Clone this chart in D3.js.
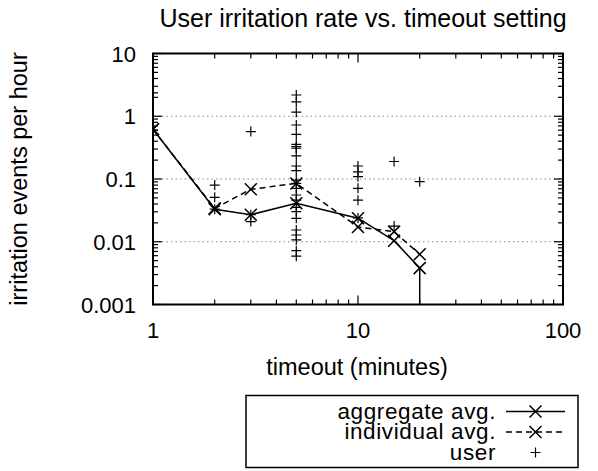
<!DOCTYPE html>
<html><head><meta charset="utf-8">
<script src="https://cdn.jsdelivr.net/npm/d3@7"></script>
<style>body{margin:0;background:#fff}svg{display:block;font-family:"Liberation Sans",Arial,sans-serif}</style>
</head><body>
<svg id="c" width="598" height="471"></svg>
<script>
const timeouts = [1, 2, 3, 5, 10, 15, 20, 20];
const aggregateAvg = [0.62, 0.033, 0.027, 0.041, 0.0237, 0.0104, 0.0038, 0.00001];
const indivX = [1, 2, 3, 5, 10, 15, 20];
const individualAvg = [0.62, 0.034, 0.0686, 0.085, 0.0172, 0.0145, 0.0063];
const userX = [1,1, 2,2,2, 3,3,3,
  5,5,5,5,5,5,5,5,5,5,5,5,5,5,5,5,5,5,5,5,5,5,5,5,
  10,10,10,10,10,10, 15,15, 20];
const userY = [2.35,0.6, 0.080,0.051,0.033, 0.57,0.027,0.021,
  2.18,1.69,1.16,0.725,0.516,0.357,0.327,0.309,0.233,0.161,0.136,0.096,0.085,0.071,0.0556,0.046,0.0354,0.0303,0.0236,0.0154,0.0128,0.0107,0.0072,0.0059,
  0.161,0.13,0.109,0.071,0.046,0.024, 0.19,0.0178, 0.0906];
const xTickLabels = ["1", "10", "100"];
const yTickLabels = ["0.001", "0.01", "0.1", "1", "10"];
const gridValues = [0.01, 0.1, 1];
const legendLabels = ["aggregate avg.", "individual avg.", "user"];

const svg = d3.select("#c");
const L = 153, R = 563, T = 53.5, B = 304.5;
const x = d3.scaleLog().domain([1, 100]).range([L, R]);
const y = d3.scaleLog().domain([0.001, 10]).range([B, T]);
const FS = 22;

svg.append("defs").append("clipPath").attr("id", "clip")
  .append("rect").attr("x", L).attr("y", T).attr("width", R - L).attr("height", B - T);

// grid
svg.append("g").selectAll("line").data(gridValues).join("line")
  .attr("x1", L).attr("x2", R).attr("y1", d => y(d)).attr("y2", d => y(d))
  .attr("stroke", "#888").attr("stroke-width", 1.2).attr("stroke-dasharray", "1.5,3");

// ticks
const tg = svg.append("g").attr("stroke", "#000").attr("stroke-width", 1.2);
const xt = [];
for (let d = 1; d <= 100; d *= 10) for (let m = 1; m < 10; m++) { const v = d * m; if (v <= 100) xt.push(v); }
xt.forEach(v => {
  const len = (Math.log10(v) % 1 === 0) ? 9 : 5;
  tg.append("line").attr("x1", x(v)).attr("x2", x(v)).attr("y1", B).attr("y2", B - len);
  tg.append("line").attr("x1", x(v)).attr("x2", x(v)).attr("y1", T).attr("y2", T + len);
});
const yt = [];
for (let d = 0.001; d <= 10.0001; d *= 10) for (let m = 1; m < 10; m++) { const v = d * m; if (v <= 10.0001) yt.push([v, m === 1]); }
yt.forEach(([v, major]) => {
  const len = major ? 9 : 5;
  tg.append("line").attr("x1", L).attr("x2", L + len).attr("y1", y(v)).attr("y2", y(v));
  tg.append("line").attr("x1", R).attr("x2", R - len).attr("y1", y(v)).attr("y2", y(v));
});

// tick labels
svg.append("g").selectAll("text").data(xTickLabels).join("text")
  .attr("x", d => x(+d)).attr("y", B + 33).attr("text-anchor", "middle")
  .attr("font-size", FS).text(d => d);
svg.append("g").selectAll("text").data(yTickLabels).join("text")
  .attr("x", L - 17).attr("y", d => y(+d) + 8).attr("text-anchor", "end")
  .attr("font-size", FS).text(d => d);

// border
svg.append("rect").attr("x", L).attr("y", T).attr("width", R - L).attr("height", B - T)
  .attr("fill", "none").attr("stroke", "#000").attr("stroke-width", 2);

// titles
svg.append("text").attr("x", 363).attr("y", 27).attr("text-anchor", "middle").attr("font-size", 25)
  .text("User irritation rate vs. timeout setting");
svg.append("text").attr("x", 357).attr("y", 375).attr("text-anchor", "middle").attr("font-size", 23.5)
  .text("timeout (minutes)");
svg.append("text").attr("transform", "translate(27," + ((T + B) / 2) + ") rotate(-90)")
  .attr("text-anchor", "middle").attr("font-size", 23.5).text("irritation events per hour");

const plot = svg.append("g").attr("clip-path", "url(#clip)");
const markX = (g, cx, cy, s) => g.append("path")
  .attr("d", `M${cx - s},${cy - s}L${cx + s},${cy + s}M${cx - s},${cy + s}L${cx + s},${cy - s}`)
  .attr("stroke", "#000").attr("stroke-width", 1.5).attr("fill", "none");
const markP = (g, cx, cy, s) => g.append("path")
  .attr("d", `M${cx - s},${cy}L${cx + s},${cy}M${cx},${cy - s}L${cx},${cy + s}`)
  .attr("stroke", "#000").attr("stroke-width", 1.2).attr("fill", "none");

// user points
userX.forEach((xv, i) => markP(plot, x(xv), y(userY[i]), 5));

const line = d3.line().x(d => x(d[0])).y(d => y(d[1]));
const agg = timeouts.map((t, i) => [t, aggregateAvg[i]]);
const ind = indivX.map((t, i) => [t, individualAvg[i]]);
plot.append("path").attr("d", line(ind)).attr("fill", "none").attr("stroke", "#000")
  .attr("stroke-width", 1.5).attr("stroke-dasharray", "6,4");
plot.append("path").attr("d", line(agg)).attr("fill", "none").attr("stroke", "#000")
  .attr("stroke-width", 1.5);
ind.forEach(d => markX(plot, x(d[0]), y(d[1]), 6));
agg.forEach(d => markX(plot, x(d[0]), y(d[1]), 6));

// legend
const lg = svg.append("g");
lg.append("rect").attr("x", 246).attr("y", 395.5).attr("width", 332).attr("height", 72)
  .attr("fill", "none").attr("stroke", "#000").attr("stroke-width", 1.5);
legendLabels.forEach((t, i) => {
  const cy = 411.5 + i * 20.5;
  lg.append("text").attr("x", 496).attr("y", cy + 7).attr("text-anchor", "end")
    .attr("font-size", 22.5).attr("letter-spacing", 0.6).text(t);
  if (i < 2) {
    lg.append("line").attr("x1", 506).attr("x2", 565).attr("y1", cy).attr("y2", cy)
      .attr("stroke", "#000").attr("stroke-width", 1.5).attr("stroke-dasharray", i === 1 ? "6,4" : null);
    markX(lg, 535.5, cy, 6);
  } else {
    markP(lg, 535.5, cy, 5);
  }
});
</script>
</body></html>
